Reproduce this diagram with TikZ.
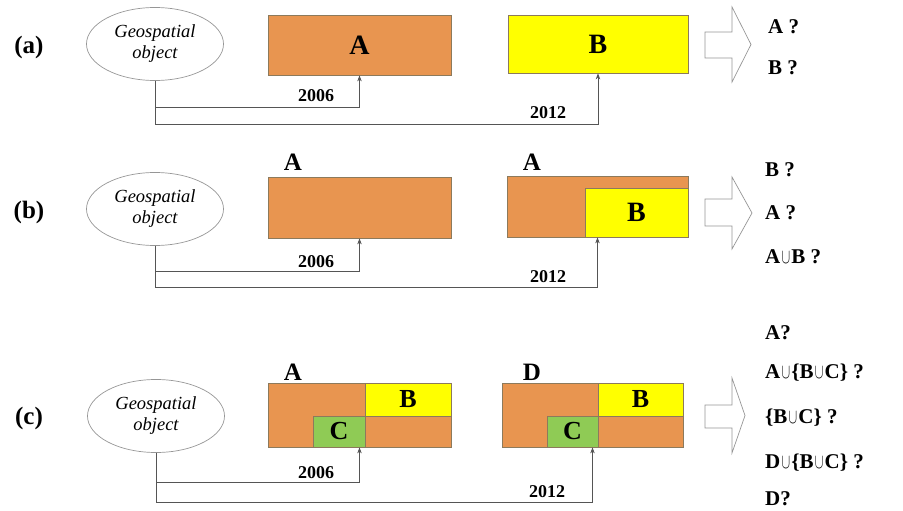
\documentclass[tikz,border=0pt]{standalone}
\usepackage{fontspec}
\setmainfont{Liberation Serif}
\usetikzlibrary{shapes.geometric,arrows.meta}
\definecolor{orng}{RGB}{232,149,80}
\definecolor{yllw}{RGB}{255,255,0}
\definecolor{grn}{RGB}{143,203,85}
\definecolor{bord}{RGB}{140,122,92}
\definecolor{linec}{RGB}{85,85,85}
\definecolor{ellc}{RGB}{150,150,150}
\newcommand{\un}{\kern1.2pt\scalebox{0.62}[1.0]{$\cup$}\kern1.2pt}
\tikzset{
  geo/.style={ellipse,draw=ellc,line width=0.7pt,minimum width=137pt,minimum height=73pt,inner sep=0pt,align=center,font=\fontsize{18.5}{21}\selectfont\itshape},
  region/.style={rectangle,draw=bord,line width=0.8pt,inner sep=0pt},
  rowlab/.style={font=\fontsize{25}{27}\selectfont\bfseries},
  boxlab/.style={font=\fontsize{28}{30}\selectfont\bfseries,inner sep=0pt},
  smallboxlab/.style={font=\fontsize{26}{28}\selectfont\bfseries,inner sep=0pt},
  toplab/.style={font=\fontsize{25}{27}\selectfont\bfseries,inner sep=0pt},
  yearlab/.style={font=\fontsize{18}{20}\selectfont\bfseries,inner sep=0pt},
  q/.style={anchor=west,font=\fontsize{21}{23}\selectfont\bfseries,inner sep=0pt},
  conn/.style={draw=linec,line width=0.8pt,-{Stealth[length=6pt,width=4.5pt]}},
  blockarrow/.style={draw=ellc,line width=0.7pt,fill=white},
}
\begin{document}
\begin{tikzpicture}[x=1pt,y=-1pt]
\useasboundingbox (0,0) rectangle (903,511);
% ---------------- (a)
\node[rowlab] (la) at (29,47) {(a)};
\node[geo] (ea) at (155,44) {Geospatial\\object};
\node[region,fill=orng,minimum width=183pt,minimum height=60pt] (aA) at (359.5,45) {};
\node[boxlab] at (aA.center) {A};
\node[region,fill=yllw,minimum width=180pt,minimum height=58pt] (aB) at (598,44) {};
\node[boxlab] at (aB.center) {B};
\draw[conn] (ea.south) |- ([yshift=-32pt]aA.south) -- (aA.south);
\draw[conn] (ea.south) |- ([yshift=-51pt]aB.south) -- (aB.south);
\node[yearlab] (ya1) at (316,96) {2006};
\node[yearlab] (ya2) at (548,113) {2012};
\draw[blockarrow] (705,32) -- (732,32) -- (732,7) -- (751,44.5) -- (732,82) -- (732,58) -- (705,58) -- cycle;
\node[q] (qa1) at (768,27) {A ?};
\node[q] (qa2) at (768,68) {B ?};
% ---------------- (b)
\node[rowlab] (lb) at (29,212) {(b)};
\node[geo] (eb) at (155,209) {Geospatial\\object};
\node[region,fill=orng,minimum width=183pt,minimum height=61pt] (bA) at (359.5,207.5) {};
\node[toplab] at (293,162) {A};
\node[region,fill=orng,minimum width=181pt,minimum height=61pt] (bA2) at (597.5,206.5) {};
\node[toplab] at (532,162) {A};
\node[region,fill=yllw,minimum width=103pt,minimum height=49pt] (bB) at (636.5,212.5) {};
\node[boxlab] at (bB.center) {B};
\draw[conn] (eb.south) |- ([yshift=-33pt]bA.south) -- (bA.south);
\draw[conn] (eb.south) |- ([yshift=-50pt]bA2.south) -- (bA2.south);
\node[yearlab] (yb1) at (316,262) {2006};
\node[yearlab] (yb2) at (548,277) {2012};
\draw[blockarrow] (705,199) -- (732,199) -- (732,177) -- (752,213) -- (732,249) -- (732,226) -- (705,226) -- cycle;
\node[q] (qb1) at (765,170) {B ?};
\node[q] (qb2) at (765,213) {A ?};
\node[q] (qb3) at (765,257) {A\un B ?};
% ---------------- (c)
\node[rowlab] (lc) at (29,418) {(c)};
\node[geo] (ec) at (156,416) {Geospatial\\object};
\node[region,fill=orng,minimum width=183pt,minimum height=64pt] (cA) at (359.5,415) {};
\node[region,fill=yllw,minimum width=86pt,minimum height=33pt] (cB) at (408,399.5) {};
\node[region,fill=grn,minimum width=52pt,minimum height=31pt] (cC) at (339,431.5) {};
\node[smallboxlab] at (cB.center) {B};
\node[smallboxlab] at (cC.center) {C};
\node[toplab] at (293,372) {A};
\node[region,fill=orng,minimum width=181pt,minimum height=64pt] (cD) at (592.5,415) {};
\node[region,fill=yllw,minimum width=85pt,minimum height=33pt] (cB2) at (640.5,399.5) {};
\node[region,fill=grn,minimum width=51pt,minimum height=31pt] (cC2) at (572.5,431.5) {};
\node[smallboxlab] at (cB2.center) {B};
\node[smallboxlab] at (cC2.center) {C};
\node[toplab] at (532,372) {D};
\draw[conn] (ec.south) |- ([yshift=-35pt]cA.south) -- (cA.south);
\draw[conn] (ec.south) |- ([yshift=-55pt]cD.south) -- (cD.south);
\node[yearlab] (yc1) at (316,473) {2006};
\node[yearlab] (yc2) at (547,492) {2012};
\draw[blockarrow] (705,405) -- (732,405) -- (732,378) -- (745,415.5) -- (732,453) -- (732,428) -- (705,428) -- cycle;
\node[q] (qc1) at (765,333) {A?};
\node[q] (qc2) at (765,373) {A\un\{B\un C\} ?};
\node[q] (qc3) at (765,418) {\{B\un C\} ?};
\node[q] (qc4) at (765,463) {D\un\{B\un C\} ?};
\node[q] (qc5) at (765,499) {D?};
\end{tikzpicture}
\end{document}
